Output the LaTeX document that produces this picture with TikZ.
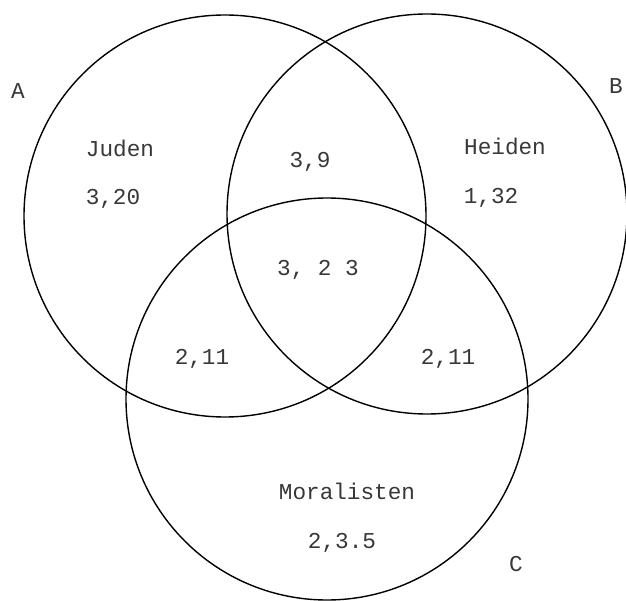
\documentclass[tikz,border=0pt]{standalone}
\usepackage{fontspec}
\newfontfamily\typew{Liberation Mono}
\begin{document}
\begin{tikzpicture}[x=1pt,y=-1pt,
  venn/.style={circle,draw=black,line width=1.4pt,inner sep=0pt,minimum size=402pt},
  lbl/.style={inner sep=0pt,text height=13pt,text depth=0pt,text=black!78,
    font=\typew\fontsize{22.7}{27}\selectfont}]
\useasboundingbox (0,0) rectangle (626,601);
\begin{scope}
\clip (0,0) rectangle (626,601);
\node[venn] (cA) at (225,216) {};
\node[venn,minimum size=400pt] (cB) at (427,214) {};
\node[venn] (cC) at (327,399) {};
\end{scope}
\node[lbl] (lA) at (18,92) {A};
\node[lbl] (lB) at (616,87) {B};
\node[lbl] (lC) at (516,565) {C};
\node[lbl] (juden) at (120,150) {Juden};
\node[lbl] (j320) at (113,198) {3,20};
\node[lbl] (heiden) at (505,148) {Heiden};
\node[lbl] (h132) at (491,197) {1,32};
\node[lbl] (ab39) at (310,161) {3,9};
\node[lbl] (abc) at (318,269) {3, 2 3};
\node[lbl] (ac211) at (202,358) {2,11};
\node[lbl] (bc211) at (448,358) {2,11};
\node[lbl] (moral) at (347,493) {Moralisten};
\node[lbl] (m235) at (342,542) {2,3.5};
\end{tikzpicture}
\end{document}
